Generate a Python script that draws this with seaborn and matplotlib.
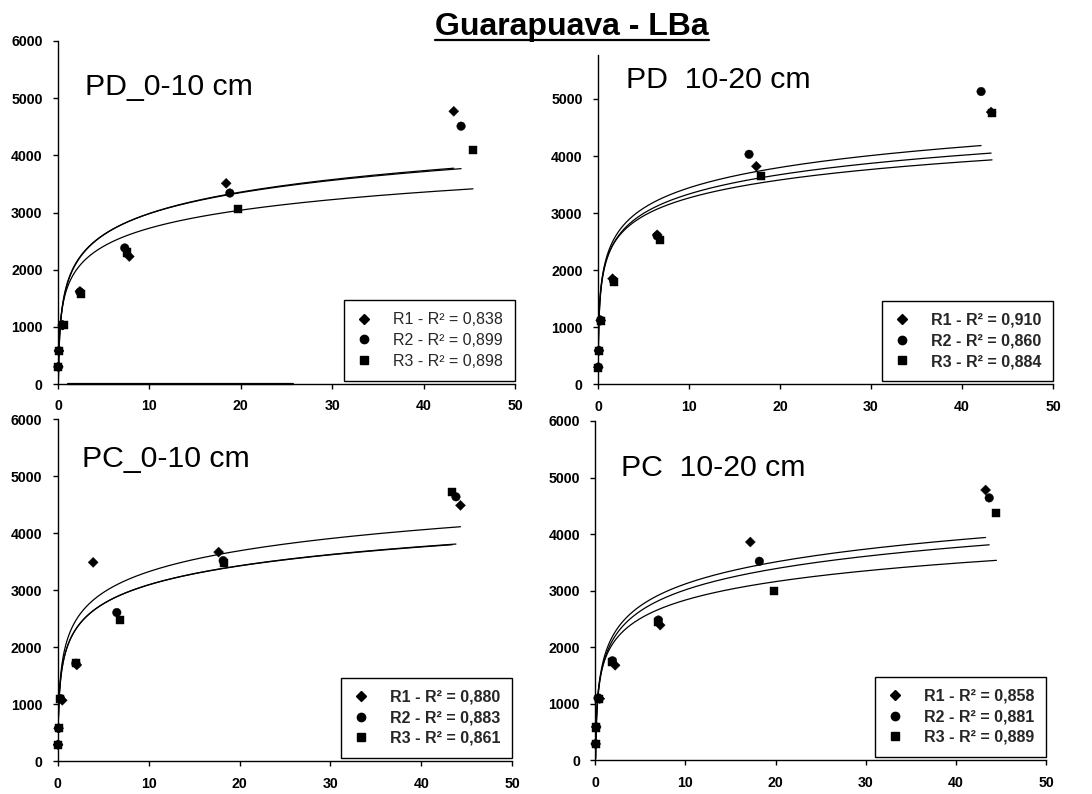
import numpy as np
import pandas as pd
import matplotlib
matplotlib.use("Agg")
import matplotlib.pyplot as plt
from matplotlib.lines import Line2D
import seaborn as sns

sns.set_theme(style="white")
plt.rcParams["font.family"] = ["Liberation Sans", "DejaVu Sans"]

# ---------------------------------------------------------------- data
series = ["R1", "R2", "R3"]

# PD 0-10 cm
pd010_r1_x = [0.04, 0.1, 0.5, 2.4, 7.8, 18.4, 43.3]
pd010_r1_y = [300, 580, 1030, 1620, 2230, 3510, 4770]
pd010_r2_x = [0.04, 0.1, 0.5, 2.4, 7.3, 18.8, 44.1]
pd010_r2_y = [300, 580, 1030, 1610, 2380, 3340, 4510]
pd010_r3_x = [0.04, 0.1, 0.6, 2.5, 7.5, 19.7, 45.4]
pd010_r3_y = [290, 570, 1030, 1580, 2300, 3060, 4090]
pd010_slope = [540, 530, 455]
pd010_intercept = [1740, 1760, 1678]
pd010_r2 = ["0,838", "0,899", "0,898"]
pd010_base_x = [1.1, 25.7]
pd010_base_y = [0, 0]

# PD 10-20 cm
pd1020_r1_x = [0.04, 0.1, 0.3, 1.6, 6.5, 17.4, 43.2]
pd1020_r1_y = [300, 590, 1120, 1850, 2620, 3820, 4770]
pd1020_r2_x = [0.04, 0.1, 0.3, 1.7, 6.5, 16.6, 42.1]
pd1020_r2_y = [300, 590, 1120, 1820, 2600, 4030, 5130]
pd1020_r3_x = [0.04, 0.1, 0.35, 1.75, 6.8, 17.9, 43.3]
pd1020_r3_y = [290, 580, 1110, 1790, 2530, 3650, 4760]
pd1020_slope = [490, 515, 455]
pd1020_intercept = [2206, 2257, 2218]
pd1020_r2 = ["0,910", "0,860", "0,884"]

# PC 0-10 cm
pc010_r1_x = [0.04, 0.1, 0.5, 2.1, 3.9, 17.7, 44.3]
pc010_r1_y = [290, 580, 1070, 1690, 3490, 3670, 4490]
pc010_r2_x = [0.04, 0.1, 0.3, 2.0, 6.5, 18.2, 43.8]
pc010_r2_y = [290, 580, 1100, 1720, 2610, 3520, 4640]
pc010_r3_x = [0.04, 0.1, 0.3, 2.0, 6.9, 18.3, 43.4]
pc010_r3_y = [290, 580, 1090, 1730, 2480, 3480, 4720]
pc010_slope = [530, 484, 480]
pc010_intercept = [2106, 1982, 1990]
pc010_r2 = ["0,880", "0,883", "0,861"]

# PC 10-20 cm
pc1020_r1_x = [0.04, 0.1, 0.5, 2.2, 7.2, 17.2, 43.3]
pc1020_r1_y = [290, 590, 1090, 1680, 2390, 3860, 4780]
pc1020_r2_x = [0.04, 0.1, 0.3, 1.9, 7.0, 18.2, 43.7]
pc1020_r2_y = [290, 590, 1100, 1760, 2480, 3520, 4640]
pc1020_r3_x = [0.04, 0.1, 0.4, 1.9, 7.0, 19.8, 44.5]
pc1020_r3_y = [290, 580, 1090, 1740, 2450, 3000, 4380]
pc1020_slope = [560, 540, 470]
pc1020_intercept = [1830, 1771, 1752]
pc1020_r2 = ["0,858", "0,881", "0,889"]

panel_names = ["PD_0-10 cm", "PD  10-20 cm", "PC_0-10 cm", "PC  10-20 cm"]
x_ticks = [0, 10, 20, 30, 40, 50]

# ---------------------------------------------------------------- style
markers = {"R1": "D", "R2": "o", "R3": "s"}
marker_area = {"R1": 26, "R2": 38, "R3": 34}
legend_msize = {"R1": 5.0, "R2": 6.0, "R3": 5.6}

W, H = 1092, 794
fig = plt.figure(figsize=(W / 100, H / 100), dpi=100)


def px_rect(x0, x1, y_bottom, y_top):
    return [x0 / W, 1 - y_bottom / H, (x1 - x0) / W, (y_bottom - y_top) / H]


panels = [
    dict(name=panel_names[0],
         xs=[pd010_r1_x, pd010_r2_x, pd010_r3_x],
         ys=[pd010_r1_y, pd010_r2_y, pd010_r3_y],
         slope=pd010_slope, intercept=pd010_intercept, r2=pd010_r2,
         rect=px_rect(58, 515, 384, 41), ymax=6000, yticks=range(0, 6001, 1000),
         label_pos=(85, 95), legend_weight="normal"),
    dict(name=panel_names[1],
         xs=[pd1020_r1_x, pd1020_r2_x, pd1020_r3_x],
         ys=[pd1020_r1_y, pd1020_r2_y, pd1020_r3_y],
         slope=pd1020_slope, intercept=pd1020_intercept, r2=pd1020_r2,
         rect=px_rect(598, 1053, 384.3, 55), ymax=5770, yticks=range(0, 5001, 1000),
         label_pos=(626, 88), legend_weight="bold"),
    dict(name=panel_names[2],
         xs=[pc010_r1_x, pc010_r2_x, pc010_r3_x],
         ys=[pc010_r1_y, pc010_r2_y, pc010_r3_y],
         slope=pc010_slope, intercept=pc010_intercept, r2=pc010_r2,
         rect=px_rect(57.7, 512.3, 761.3, 419.3), ymax=6000, yticks=range(0, 6001, 1000),
         label_pos=(82, 467), legend_weight="bold"),
    dict(name=panel_names[3],
         xs=[pc1020_r1_x, pc1020_r2_x, pc1020_r3_x],
         ys=[pc1020_r1_y, pc1020_r2_y, pc1020_r3_y],
         slope=pc1020_slope, intercept=pc1020_intercept, r2=pc1020_r2,
         rect=px_rect(595.3, 1046, 760.3, 421), ymax=6000, yticks=range(0, 6001, 1000),
         label_pos=(621, 476), legend_weight="bold"),
]

for i, p in enumerate(panels):
    ax = fig.add_axes(p["rect"])

    frames = []
    for s, xv, yv in zip(series, p["xs"], p["ys"]):
        frames.append(pd.DataFrame({"x": xv, "y": yv, "serie": s}))
    df = pd.concat(frames, ignore_index=True)

    # logarithmic trend lines  y = a ln(x) + b over each series' x range
    for s, xv, a, b in zip(series, p["xs"], p["slope"], p["intercept"]):
        xs = np.geomspace(min(xv), max(xv), 400)
        ys = a * np.log(xs) + b
        sns.lineplot(x=xs, y=ys, color="black", linewidth=0.9, ax=ax,
                     estimator=None, sort=False)

    if i == 0:
        sns.lineplot(x=pd010_base_x, y=pd010_base_y, color="black",
                     linewidth=1.6, ax=ax, estimator=None)
        ax.lines[-1].set_clip_on(False)

    sns.scatterplot(data=df, x="x", y="y", style="serie", style_order=series,
                    markers=markers, size="serie", sizes=marker_area,
                    size_order=series, color="black", edgecolor="black",
                    linewidth=0.3, legend=False, ax=ax)
    for coll in ax.collections:
        coll.set_clip_on(False)

    ax.set_xlim(0, 50)
    ax.set_ylim(0, p["ymax"])
    ax.set_xticks(x_ticks)
    ax.set_yticks(list(p["yticks"]))
    ax.set_xlabel("")
    ax.set_ylabel("")
    for side in ("top", "right"):
        ax.spines[side].set_visible(False)
    for side in ("left", "bottom"):
        ax.spines[side].set_color("black")
        ax.spines[side].set_linewidth(1.0)
    ax.tick_params(axis="both", which="major", bottom=True, left=True,
                   direction="out", length=3.6, width=1.0, color="black",
                   labelsize=10.2, pad=7.5, labelcolor="black")
    for lab in ax.get_xticklabels() + ax.get_yticklabels():
        lab.set_fontweight("bold")

    handles = [Line2D([], [], ls="none", marker=markers[s], color="black",
                      markersize=legend_msize[s]) for s in series]
    labels = [f"{s} - R² = {r}" for s, r in zip(series, p["r2"])]
    leg = ax.legend(handles, labels, loc="lower right",
                    bbox_to_anchor=(1.0, 0.01), borderaxespad=0,
                    frameon=True, fancybox=False, edgecolor="black",
                    facecolor="white", framealpha=1,
                    prop={"size": 11.5, "weight": p["legend_weight"]},
                    handlelength=1.0, handletextpad=1.3, borderpad=0.75,
                    labelspacing=0.35)
    leg.get_frame().set_linewidth(1.0)

    lx, ly = p["label_pos"]
    fig.text(lx / W, 1 - ly / H, p["name"], fontsize=21.8, color="black",
             ha="left", va="baseline")

title = fig.text(572 / W, 1 - 35 / H, "Guarapuava - LBa", fontsize=23,
                 fontweight="bold", ha="center", va="baseline", color="black")

# underline for the title
fig.canvas.draw()
bb = title.get_window_extent(renderer=fig.canvas.get_renderer())
uy = (H - 39.5)
fig.add_artist(Line2D([bb.x0 / W, bb.x1 / W], [uy / H, uy / H],
                      transform=fig.transFigure, color="black", linewidth=1.6))

fig.savefig("out.png", dpi=100)
